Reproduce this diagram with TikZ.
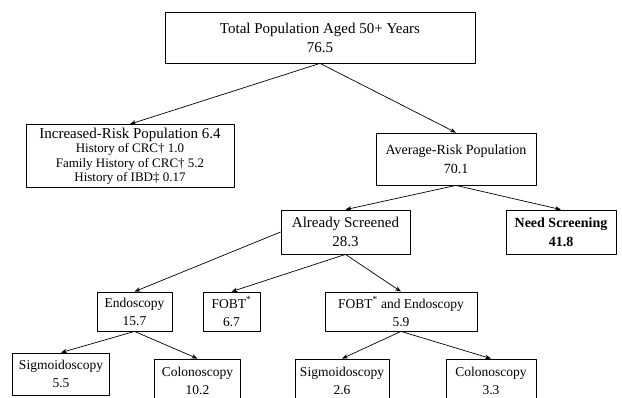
\documentclass[tikz,border=0pt]{standalone}
\usepackage{fontspec}
\setmainfont{Liberation Serif}
\usetikzlibrary{arrows.meta}
\tikzset{
	box/.style={draw, line width=0.8pt, align=center, inner sep=0pt},
	big/.style={font=\fontsize{15}{19}\selectfont},
	mid/.style={font=\fontsize{14}{19}\selectfont},
	low/.style={font=\fontsize{13.5}{18}\selectfont},
	bot/.style={font=\fontsize{13.5}{18}\selectfont},
	small/.style={font=\fontsize{13}{14.5}\selectfont}
}
\begin{document}
\begin{tikzpicture}[x=1pt, y=-1pt, line join=round, >={Stealth[length=6pt,width=4.5pt]}, line width=0.7pt]
	\useasboundingbox (0,0) rectangle (622,398);
	% top level
	\node[box, big, minimum width=310, minimum height=51] (total) at (320,37.5) {Total Population Aged 50+ Years\\76.5};
	\node[box, small, minimum width=208, minimum height=63] (incr) at (130,156) {\fontsize{15}{17}\selectfont Increased-Risk Population 6.4\\ History of CRC† 1.0\\ Family History of CRC† 5.2\\ History of IBD‡ 0.17};
	\node[box, mid, minimum width=160, minimum height=52] (avg) at (456,159) {Average-Risk Population\\70.1};
	% screening status
	\node[box, minimum width=129, minimum height=44, font=\fontsize{15}{19}\selectfont] (done) at (345.5,232) {Already Screened\\28.3};
	\node[box, minimum width=110, minimum height=44, font=\fontsize{14}{19}\selectfont\bfseries] (need) at (561,232) {Need Screening\\41.8};
	% tests
	\node[box, low, minimum width=75, minimum height=39] (endo) at (134.5,311.5) {Endoscopy\\15.7};
	\node[box, low, minimum width=57, minimum height=39] (fobt) at (231.5,311.5) {FOBT\textsuperscript{*}\\6.7};
	\node[box, low, minimum width=152, minimum height=39] (both) at (401,311.5) {FOBT\textsuperscript{*} and Endoscopy\\5.9};
	\node[box, bot, minimum width=97, minimum height=42] (sigA) at (61,374) {Sigmoidoscopy\\5.5};
	\node[box, bot, minimum width=86, minimum height=44] (colA) at (197.5,381) {Colonoscopy\\10.2};
	\node[box, bot, minimum width=94, minimum height=44] (sigB) at (342,381) {Sigmoidoscopy\\2.6};
	\node[box, bot, minimum width=90, minimum height=44] (colB) at (491,381) {Colonoscopy\\3.3};
	% arrows
	\draw[->] (total.south) -- (incr.north);
	\draw[->] (total.south) -- (avg.north);
	\draw[->] (avg.south) -- (done.north);
	\draw[->] (avg.south) -- (need.north);
	\draw[->] (done.west) -- (endo.north);
	\draw[->] (done.south) -- (fobt.north);
	\draw[->] (done.south) -- (both.north);
	\draw[->] (endo.south) -- (sigA.north);
	\draw[->] (endo.south) -- (colA.north);
	\draw[->] (both.south) -- (sigB.north);
	\draw[->] (both.south) -- (colB.north);
\end{tikzpicture}
\end{document}
